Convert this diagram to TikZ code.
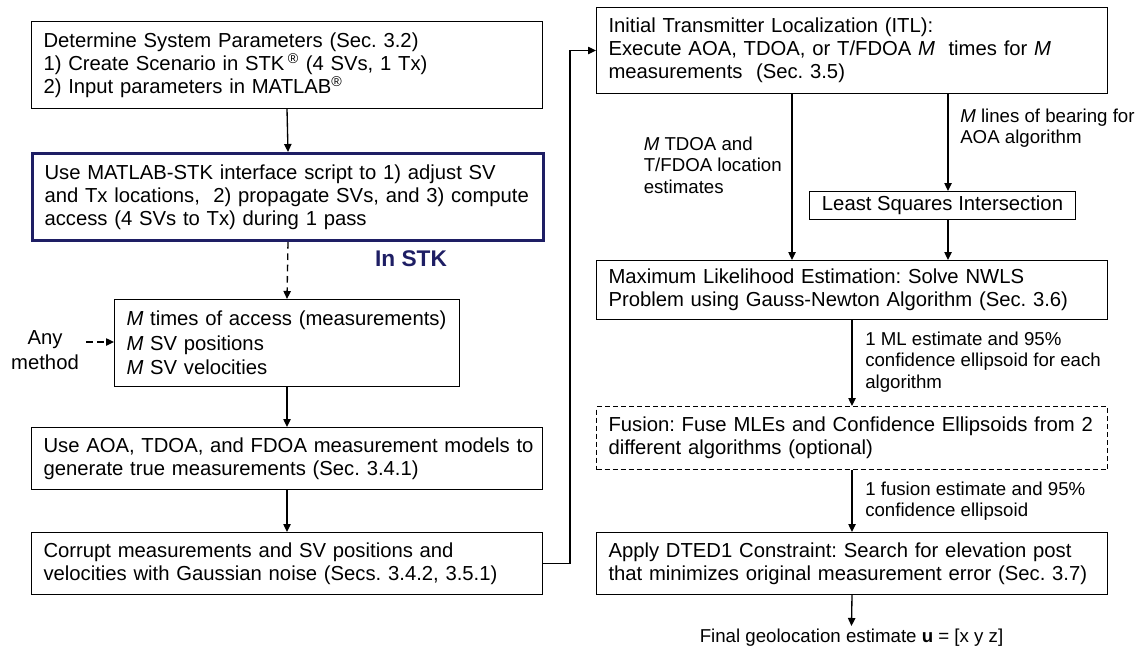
\documentclass[tikz,border=0pt]{standalone}
\usepackage{fontspec}
\setmainfont{Liberation Sans}
\usetikzlibrary{arrows.meta}
\definecolor{stknavy}{RGB}{30,30,100}

\begin{document}
\frenchspacing
\begin{tikzpicture}[x=0.75pt,y=-0.75pt,
  boxfont/.style={font=\fontsize{15.2}{17.25}\selectfont},
  labelfont/.style={font=\fontsize{14}{16.2}\selectfont},
  flowbox/.style={draw, line width=0.75pt, anchor=north west, align=left,
    inner xsep=9pt, inner ysep=0pt, boxfont},
  widebox/.style={flowbox, text width=365.25pt},
  flow/.style={line width=1pt, -{Triangle[length=6pt,width=5.5pt]}},
  dashflow/.style={flow, dash pattern=on 5pt off 3.5pt},
  note/.style={labelfont, align=left, inner sep=0pt},
]
\useasboundingbox (0,0) rectangle (1141,650);

% ---- left column ----
\node[widebox, minimum height=65.25pt] (sys) at (31,21)
  {\mbox{Determine System Parameters (Sec. 3.2)}\\
   \mbox{1) Create Scenario in STK\,\textsuperscript{®} (4 SVs, 1 Tx)}\\
   \mbox{2) Input parameters in MATLAB\textsuperscript{®}}};

\node[widebox, draw=stknavy, line width=2.25pt, minimum height=65.25pt] (stk) at (31,152)
  {\mbox{Use MATLAB-STK interface script to 1) adjust SV}\\
   \mbox{and Tx locations,\ \ 2) propagate SVs, and 3) compute}\\
   \mbox{access (4 SVs to Tx) during 1 pass}};

\node[font=\fontsize{17}{20}\selectfont\bfseries, text=stknavy, inner sep=0pt] (instk) at (411,259) {In STK};

\node[flowbox, text width=240.75pt, minimum height=65.25pt, font=\fontsize{15.2}{18.4}\selectfont] (meas) at (114,299)
  {\mbox{\textit{M} times of access (measurements)}\\
   \mbox{\textit{M} SV positions}\\
   \mbox{\textit{M} SV velocities}};

\node[align=center, inner sep=0pt, font=\fontsize{15.2}{18.75}\selectfont] (any) at (45,350) {Any\\method};
\coordinate (anystart) at (86,342);

\node[widebox, minimum height=46.5pt] (model) at (31,427)
  {\mbox{Use AOA, TDOA, and FDOA measurement models to}\\
   \mbox{generate true measurements (Sec. 3.4.1)}};

\node[widebox, minimum height=46.5pt] (noise) at (31,532)
  {\mbox{Corrupt measurements and SV positions and}\\
   \mbox{velocities with Gaussian noise (Secs. 3.4.2, 3.5.1)}};

% ---- right column ----
\node[widebox, minimum height=64.5pt] (itl) at (596,7)
  {\mbox{Initial Transmitter Localization (ITL):}\\
   \mbox{Execute AOA, TDOA, or T/FDOA \textit{M}\ \ times for \textit{M}}\\
   \mbox{measurements\ \ (Sec. 3.5)}};

\node[draw, line width=0.75pt, anchor=north west, boxfont, inner sep=0pt,
      minimum width=199.5pt, minimum height=21pt] (lsi) at (809,191)
  {Least Squares Intersection};

\node[widebox, minimum height=44.25pt] (mle) at (596,260)
  {\mbox{Maximum Likelihood Estimation: Solve NWLS}\\
   \mbox{Problem using Gauss-Newton Algorithm (Sec. 3.6)}};

\node[widebox, dash pattern=on 3.75pt off 2.25pt, minimum height=47.25pt] (fusion) at (596,406)
  {\mbox{Fusion: Fuse MLEs and Confidence Ellipsoids from 2}\\
   \mbox{different algorithms (optional)}};

\node[widebox, minimum height=46.5pt] (dted) at (596,532)
  {\mbox{Apply DTED1 Constraint: Search for elevation post}\\
   \mbox{that minimizes original measurement error (Sec. 3.7)}};

\node[labelfont, inner sep=2pt, anchor=north] (final) at (851.5,626)
  {Final geolocation estimate \textbf{u} = [x y z]};

% ---- connector labels ----
\node[note, anchor=east] (lblest) at (782,165)
  {\textit{M} TDOA and\\T/FDOA location\\estimates};
\node[note, anchor=west] (lblbear) at (960,128)
  {\textit{M} lines of bearing for\\AOA algorithm};
\node[note, anchor=west] (lblml) at (865,362)
  {1 ML estimate and 95\%\\confidence ellipsoid for each\\algorithm};
\node[note, anchor=west] (lblfus) at (865,501)
  {1 fusion estimate and 95\%\\confidence ellipsoid};

% ---- connectors ----
\coordinate (xleft) at (792,0);
\coordinate (xright) at (948,0);
\draw[flow] (sys.south) -- (stk.north);
\draw[dashflow] (stk.south) -- (meas.north);
\draw[dashflow] (anystart) -- (anystart -| meas.west);
\draw[flow] (meas.south) -- (model.north);
\draw[flow] (model.south) -- (noise.north);
\draw[flow] (noise.east) -- ++(27,0) |- (itl.west);
\draw[flow] (itl.south -| xleft) -- (mle.north -| xleft);
\draw[flow] (itl.south -| xright) -- (lsi.north -| xright);
\draw[flow] (lsi.south -| xright) -- (mle.north -| xright);
\draw[flow] (mle.south) -- (fusion.north);
\draw[flow] (fusion.south) -- (dted.north);
\draw[flow] (dted.south) -- (final.north);
\end{tikzpicture}
\end{document}
